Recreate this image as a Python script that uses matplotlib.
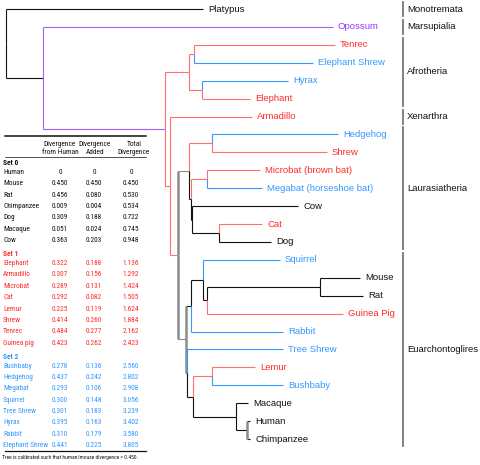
import matplotlib.pyplot as plt

plt.rcParams['font.family'] = ['Liberation Sans', 'DejaVu Sans']

RED = '#ff2a2a'
RED_LINE = '#ff6f6f'
BLUE = '#3399ff'
PURPLE = '#9933ff'
BLACK = '#111111'
GREY = '#8c8c8c'
line_col = {'k': BLACK, 'R': RED_LINE, 'B': BLUE, 'P': '#a060f0', 'G': GREY}
text_col = {'k': BLACK, 'R': RED, 'B': BLUE, 'P': PURPLE, 'G': BLACK}

# ---- tree: node, parent, branch length, colour (children in drawing order)
node = ['root', 'Platypus', 'Theria', 'Opossum', 'Placentalia',
        'Afrotheria', 'Afro_a', 'Tenrec', 'Elephant Shrew', 'Afro_b', 'Hyrax', 'Elephant',
        'Exafro', 'Armadillo', 'Boreo',
        'Laura', 'Eulipo', 'Hedgehog', 'Shrew', 'Scrot', 'Chiro',
        'Microbat (brown bat)', 'Megabat (horseshoe bat)', 'Fereu', 'Cow', 'Carniv', 'Cat', 'Dog',
        'Euarch', 'Glires', 'Rodent', 'Squirrel', 'Rod_b', 'Murinae', 'Mouse', 'Rat',
        'Guinea Pig', 'Rabbit', 'Euarchonta', 'Tree Shrew', 'Primates', 'Streps',
        'Lemur', 'Bushbaby', 'Catarr', 'Macaque', 'Homin', 'Human', 'Chimpanzee']
parent = [None, 'root', 'root', 'Theria', 'Theria',
          'Placentalia', 'Afrotheria', 'Afro_a', 'Afro_a', 'Afrotheria', 'Afro_b', 'Afro_b',
          'Placentalia', 'Exafro', 'Exafro',
          'Boreo', 'Laura', 'Eulipo', 'Eulipo', 'Laura', 'Scrot',
          'Chiro', 'Chiro', 'Scrot', 'Fereu', 'Fereu', 'Carniv', 'Carniv',
          'Boreo', 'Euarch', 'Glires', 'Rodent', 'Rodent', 'Rod_b', 'Murinae', 'Murinae',
          'Rod_b', 'Glires', 'Euarch', 'Euarchonta', 'Euarchonta', 'Primates',
          'Streps', 'Streps', 'Primates', 'Catarr', 'Catarr', 'Homin', 'Homin']
length = [6, 197, 37, 290, 122,
          24, 5, 141, 119, 13, 86, 48,
          5, 82, 8,
          11, 23, 126, 115, 2, 16,
          53, 55, 1, 106, 27, 43, 52,
          8, 5, 12, 77, 4, 113, 40, 43,
          136, 92, 1, 96, 6, 19,
          43, 71, 43, 12, 11, 3, 3]
colour = ['k', 'k', 'k', 'P', 'P',
          'R', 'R', 'R', 'B', 'R', 'B', 'R',
          'R', 'R', 'R',
          'G', 'R', 'B', 'R', 'k', 'R',
          'R', 'B', 'k', 'k', 'k', 'R', 'k',
          'G', 'k', 'k', 'B', 'k', 'k', 'k', 'k',
          'R', 'B', 'k', 'B', 'k', 'R',
          'R', 'B', 'k', 'k', 'k', 'k', 'k']
heavy = ['Laura', 'Euarch', 'Glires', 'Euarchonta', 'Human', 'Chimpanzee']

groups = ['Monotremata', 'Marsupialia', 'Afrotheria', 'Xenarthra', 'Laurasiatheria', 'Euarchontoglires']
group_first = ['Platypus', 'Opossum', 'Tenrec', 'Armadillo', 'Hedgehog', 'Squirrel']
group_last = ['Platypus', 'Opossum', 'Elephant', 'Armadillo', 'Dog', 'Chimpanzee']

# ---- table
set_names = ['Set 0', 'Set 1', 'Set 2']
set_colours = [BLACK, RED, BLUE]
set0_species = ['Human', 'Mouse', 'Rat', 'Chimpanzee', 'Dog', 'Macaque', 'Cow']
set0_from = [0, 0.450, 0.456, 0.009, 0.309, 0.051, 0.363]
set0_added = [0, 0.450, 0.080, 0.004, 0.188, 0.024, 0.203]
set0_total = [0, 0.450, 0.530, 0.534, 0.722, 0.745, 0.948]
set1_species = ['Elephant', 'Armadillo', 'Microbat', 'Cat', 'Lemur', 'Shrew', 'Tenrec', 'Guinea pig']
set1_from = [0.322, 0.307, 0.289, 0.292, 0.225, 0.414, 0.484, 0.423]
set1_added = [0.188, 0.156, 0.131, 0.082, 0.119, 0.260, 0.277, 0.262]
set1_total = [1.136, 1.292, 1.424, 1.505, 1.624, 1.884, 2.162, 2.423]
set2_species = ['Bushbaby', 'Hedgehog', 'Megabat', 'Squirrel', 'Tree Shrew', 'Hyrax', 'Rabbit', 'Elephant Shrew']
set2_from = [0.278, 0.437, 0.293, 0.300, 0.301, 0.395, 0.310, 0.441]
set2_added = [0.136, 0.242, 0.106, 0.148, 0.183, 0.163, 0.179, 0.225]
set2_total = [2.560, 2.802, 2.908, 3.056, 3.239, 3.402, 3.580, 3.805]

fig = plt.figure(figsize=(4.8, 4.65), dpi=100)
ax = fig.add_axes([0, 0, 1, 1])
ax.set_xlim(0, 480)
ax.set_ylim(465, 0)
ax.axis('off')

# positions
idx = {n: i for i, n in enumerate(node)}
children = {n: [] for n in node}
for n, p in zip(node, parent):
    if p is not None:
        children[p].append(n)
X = {}
Y = {}
leaf_count = [0]


def place(n, x0):
    X[n] = x0 + length[idx[n]]
    if not children[n]:
        Y[n] = 9 + leaf_count[0] * 17.92
        leaf_count[0] += 1
    else:
        for c in children[n]:
            place(c, X[n])
        Y[n] = (Y[children[n][0]] + Y[children[n][-1]]) / 2


place('root', 0)

for n, p in zip(node, parent):
    if p is None:
        continue
    c = line_col[colour[idx[n]]]
    ax.plot([X[p], X[n]], [Y[n], Y[n]], color=c, lw=0.8, solid_capstyle='butt')
    if n in heavy:
        ax.plot([X[p], X[p]], [Y[p], Y[n]], color=GREY, lw=1.8, solid_capstyle='butt')
    else:
        ax.plot([X[p], X[p]], [Y[p], Y[n]], color=c, lw=0.8, solid_capstyle='butt')
    if not children[n]:
        ax.text(X[n] + 5, Y[n], n, color=text_col[colour[idx[n]]], fontsize=6.8,
                va='center', ha='left')

# group bars
for g, a, b in zip(groups, group_first, group_last):
    y0, y1 = Y[a] - 7, Y[b] + 7
    ax.plot([403, 403], [y0, y1], color='#777777', lw=1.3)
    ax.text(407, (y0 + y1) / 2, g, fontsize=6.8, va='center', ha='left', color=BLACK)

# table
tfont = ['Roboto Condensed', 'Liberation Sans']
tsize = 5.35
ax.plot([5, 146], [136, 136], color=BLACK, lw=1.1)
ax.plot([5, 146], [157.5, 157.5], color=BLACK, lw=0.5)
headers = ['Divergence\nfrom Human', 'Divergence\nAdded', 'Total\nDivergence']
col_x = [60, 94, 131]
head_x = [60, 95, 134]
for h, hx in zip(headers, head_x):
    ax.text(hx, 148, h, fontsize=tsize, family=tfont, ha='center', va='center',
            linespacing=1.2, color=BLACK)

sets = [(set0_species, set0_from, set0_added, set0_total),
        (set1_species, set1_from, set1_added, set1_total),
        (set2_species, set2_from, set2_added, set2_total)]
y = 163
for name, col, (sp, f, a, t) in zip(set_names, set_colours, sets):
    ax.text(3, y, name, fontsize=tsize, family=tfont, weight='bold', color=col, va='center')
    y += 9.5
    for row in zip(sp, f, a, t):
        ax.text(3, y, row[0], fontsize=tsize, family=tfont, color=col, va='center')
        for v, cx in zip(row[1:], col_x):
            s = '0' if v == 0 else f'{v:.3f}'
            ax.text(cx, y, s, fontsize=tsize, family=tfont, color=col, va='center', ha='center')
        y += 11.35
    y += 2.15
ax.plot([5, 146], [450.7, 450.7], color=BLACK, lw=0.9)
ax.text(2, 457, 'Tree is calibrated such that human/mouse divergence = 0.450.', fontsize=4.0,
        family=tfont, color=BLACK, va='center')

fig.savefig('out.png', dpi=100)
